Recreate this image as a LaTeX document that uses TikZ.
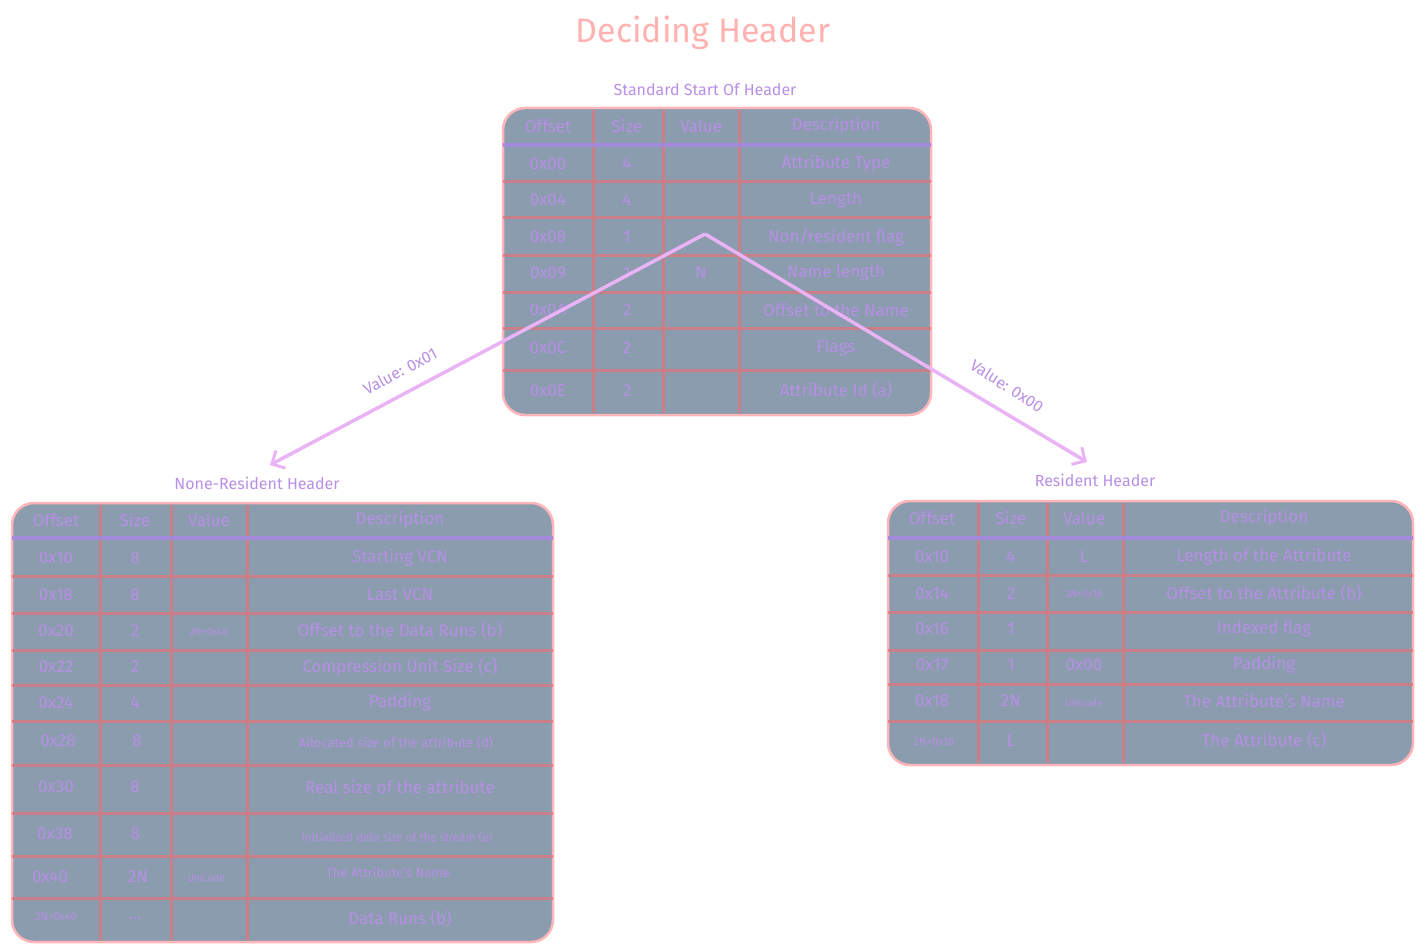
\documentclass[tikz,border=0pt]{standalone}
\usepackage{fontspec}
\setmainfont{Fira Sans}
\usetikzlibrary{arrows.meta}
\definecolor{tfill}{HTML}{8A9CAD}
\definecolor{tborder}{HTML}{FFB5BA}
\definecolor{tgrid}{HTML}{D9787F}
\definecolor{thead}{HTML}{A48ADB}
\definecolor{ttext}{HTML}{B88FE6}
\definecolor{ttitle}{HTML}{FFB2B0}
\definecolor{tarrow}{HTML}{E9B3F5}
\tikzset{
  tbox/.style={fill=tfill,draw=tborder,line width=2.5pt,rounded corners=22pt},
  gridl/.style={draw=tgrid,line width=3pt,opacity=0.8},
  headl/.style={draw=thead,line width=4pt},
  cell/.style={text=ttext,font=\fontsize{17}{17}\selectfont,inner sep=0pt},
  smallcell/.style={text=ttext,font=\fontsize{10}{10}\selectfont,inner sep=0pt},
  tlabel/.style={text=ttext,font=\fontsize{16}{16}\selectfont,inner sep=1pt},
  conn/.style={draw=tarrow,line width=3.5pt,-{Straight Barb[length=10pt,width=20pt,line width=3pt]}},
}
\begin{document}
\begin{tikzpicture}[x=1pt,y=-1pt]
\useasboundingbox (0,0) rectangle (1422,952);
\node[text=ttitle,font=\fontsize{34}{34}\selectfont] (title) at (703,33) {Deciding Header};
% ---------- top table
\node[tlabel] (tstd) at (705,90) {Standard Start Of Header};
\path[tbox] (503,108) rectangle (931,415);
\foreach \x in {593,663,739} \draw[gridl] (\x,110) -- (\x,413);
\foreach \y in {182,218,256,292,328,370} \draw[gridl] (503,\y) -- (931,\y);
\draw[headl] (503,145) -- (931,145);
\foreach \y/\a/\b/\c/\d in {126/Offset/Size/Value/Description,164/0x00/4//Attribute Type,200/0x04/4//Length,237/0x08/1//{Non/resident flag},273/0x09/1/N/Name length,310/0x0A/2//Offset to the Name,348/0x0C/2//Flags,391/0x0E/2//Attribute Id (a)}{
  \node[cell] at (548,\y) {\a}; \node[cell] at (627,\y) {\b};
  \node[cell] at (701,\y) {\c}; \node[cell] at (836,\y) {\d};}
% ---------- left table
\node[tlabel] (tnon) at (257,483) {None-Resident Header};
\path[tbox] (12,503) rectangle (553,942);
\foreach \x in {100,171,247} \draw[gridl] (\x,505) -- (\x,940);
\foreach \y in {576,613,650,685,721,765,813,856,898} \draw[gridl] (12,\y) -- (553,\y);
\draw[headl] (12,538) -- (553,538);
\foreach \y/\a/\b/\c/\d in {520/Offset/Size/Value/Description,558/0x10/8//Starting VCN,595/0x18/8//Last VCN,631/0x20/2//Offset to the Data Runs (b),667/0x22/2//Compression Unit Size (c),703/0x24/4//Padding,787/0x30/8//Real size of the attribute,919/{}/{...}//Data Runs (b)}{
  \node[cell] at (56,\y) {\a}; \node[cell] at (135,\y) {\b};
  \node[cell] at (209,\y) {\c}; \node[cell] at (400,\y) {\d};}
\node[smallcell] at (209,632) {2N+0x40};
\node[cell] at (58,741) {0x28}; \node[cell] at (137,741) {8};
\node[cell,font=\fontsize{13}{13}\selectfont] at (396,743) {Allocated size of the attribute (d)};
\node[cell] at (55,834) {0x38}; \node[cell] at (135,834) {8};
\node[cell,font=\fontsize{11.5}{11.5}\selectfont] at (397,837) {Initialized data size of the stream (e)};
\node[cell] at (50,877) {0x40}; \node[cell] at (138,877) {2N};
\node[smallcell] at (206,878) {Unicode};
\node[cell,font=\fontsize{13}{13}\selectfont] at (388,873) {The Attribute's Name};
\node[smallcell,font=\fontsize{11}{11}\selectfont] at (56,917) {2N+0x40};
% ---------- right table
\node[tlabel] (tres) at (1095,480) {Resident Header};
\path[tbox] (888,501) rectangle (1413,765);
\foreach \x in {978,1047,1123} \draw[gridl] (\x,503) -- (\x,763);
\foreach \y in {575,612,650,684,721} \draw[gridl] (888,\y) -- (1413,\y);
\draw[headl] (888,538) -- (1413,538);
\foreach \y/\a/\b/\c/\d in {518/Offset/Size/Value/Description,557/0x10/4/L/Length of the Attribute,594/0x14/2//Offset to the Attribute (b),629/0x16/1//Indexed flag,665/0x17/1/0x00/Padding,701/0x18/2N//The Attribute's Name,741/{}/L//The Attribute (c)}{
  \node[cell] at (932,\y) {\a}; \node[cell] at (1011,\y) {\b};
  \node[cell] at (1084,\y) {\c}; \node[cell] at (1264,\y) {\d};}
\node[smallcell] at (1084,594) {2N+0x18};
\node[smallcell] at (1084,703) {Unicode};
\node[smallcell,font=\fontsize{11}{11}\selectfont] at (934,742) {2N+0x18};
% ---------- connectors
\coordinate (apex) at (705,234);
\coordinate (lend) at (270,465);
\coordinate (rend) at (1087,462);
\draw[conn] (apex) -- (lend);
\draw[conn] (apex) -- (rend);
\node[tlabel,rotate=28] (lab1) at (400,371) {Value: 0x01};
\node[tlabel,rotate=-33] (lab2) at (1007,386) {Value: 0x00};
\end{tikzpicture}
\end{document}
